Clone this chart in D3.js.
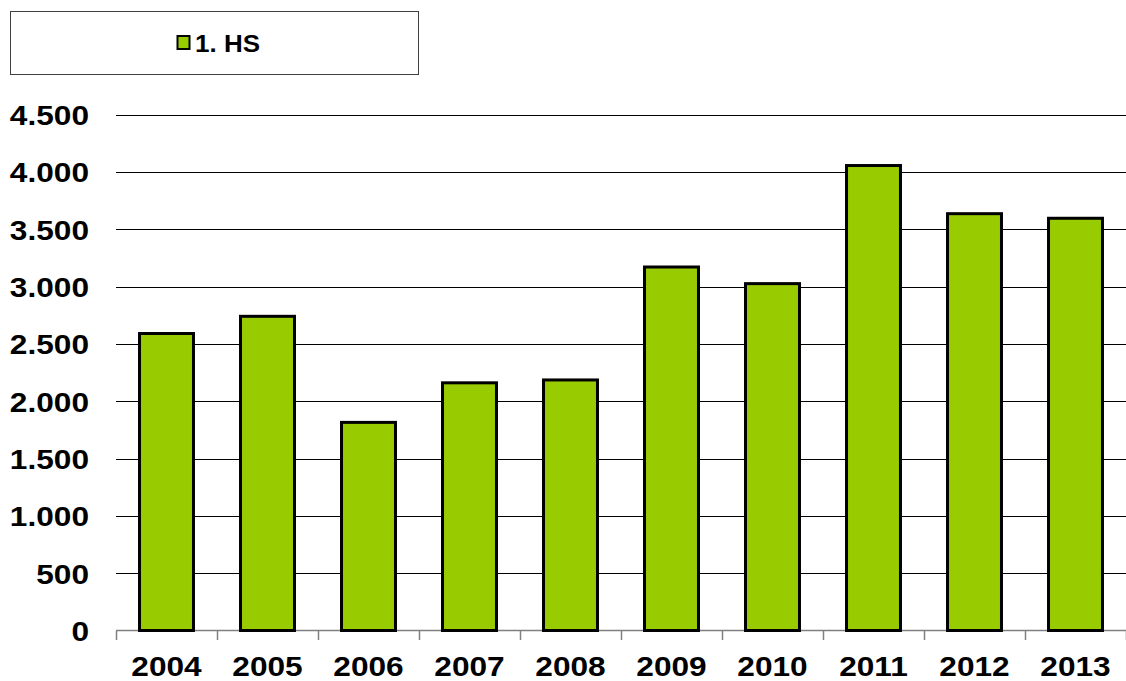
<html>
<head>
<title> 1. HS </title>
<script src="https://d3js.org/d3.v7.min.js"></script>
<style>
body {
  margin: 0;
  background: white;
}
svg text {
  font-family: "Liberation Sans", Arial, sans-serif;
  font-weight: bold;
  fill: #000;
}
.gridlines line {
  stroke: #000;
  shape-rendering: crispEdges;
}
.gridlines .domain {
  stroke: none;
}
</style>
</head>
<body>
<svg id="barchart" width="1126" height="681"></svg>

<script>
// data
const years = ["2004","2005","2006","2007","2008","2009","2010","2011","2012","2013"];
const values = [2590, 2740, 1815, 2160, 2185, 3170, 3025, 4055, 3635, 3595];
const yTicks = [0, 500, 1000, 1500, 2000, 2500, 3000, 3500, 4000, 4500];
const seriesName = "1. HS";

const svg = d3.select("svg#barchart");
const margin = {top: 115, right: 0, bottom: 50, left: 116};
const width = +svg.attr("width");
const height = +svg.attr("height");
const chartBottom = height - margin.bottom;   // zero line
const stretch = 1.13;                         // text in the original is a bit wide

const deLocale = d3.formatLocale({decimal: ",", thousands: ".", grouping: [3], currency: ["", ""]});
const fmt = deLocale.format(",d");

const yScale = d3.scaleLinear().domain([0, 4500]).range([chartBottom - 0.5, margin.top - 0.5]);
const xScale = d3.scaleBand().domain(years)
                 .range([margin.left, width - margin.right])
                 .paddingInner(0.436).paddingOuter(0.218);

//gridlines + y labels
let leftAxis = d3.axisLeft(yScale)
                 .tickValues(yTicks)
                 .tickSize(-(width - margin.left))
                 .tickPadding(0)
                 .tickFormat(fmt);
let yG = svg.append("g")
            .attr("class", "y gridlines")
            .attr("transform", `translate(${margin.left},0)`)
            .call(leftAxis);
yG.selectAll(".tick line").filter(d => d === 0).remove();
yG.selectAll(".tick text")
  .attr("x", 0).attr("dy", null).attr("y", 0)
  .attr("transform", "translate(-27,10) scale(" + stretch + ",1)")
  .style("font-size", "28px")
  .attr("text-anchor", "end");

//x axis line and ticks between categories
const annotations = svg.append("g").attr("id", "annotations");
annotations.append("line")
  .attr("x1", margin.left).attr("x2", width)
  .attr("y1", chartBottom - 0.5).attr("y2", chartBottom - 0.5)
  .attr("stroke", "#808080").attr("stroke-width", 1.5);

const step = xScale.step();
const bounds = years.map(y => xScale(y) - step * xScale.paddingInner() / 2).concat([width - 0.5]);
annotations.selectAll("line.xtick").data(bounds).enter().append("line")
  .attr("class", "xtick")
  .attr("x1", d => Math.round(d) + 0.5).attr("x2", d => Math.round(d) + 0.5)
  .attr("y1", chartBottom).attr("y2", chartBottom + 9)
  .attr("stroke", "#808080").attr("stroke-width", 1.5);

annotations.selectAll("text.xlabel").data(years).enter().append("text")
  .attr("class", "xlabel")
  .attr("text-anchor", "middle")
  .style("font-size", "28px")
  .attr("transform", d => `translate(${xScale(d) + xScale.bandwidth() / 2},676) scale(${stretch},1)`)
  .text(d => d);

//bars
const barData = years.map((y, i) => ({year: y, value: values[i]}));
svg.append("g").attr("id", "bars").selectAll("rect.bar")
  .data(barData).enter().append("rect")
  .attr("class", "bar")
  .attr("fill", "#99CC00")
  .attr("stroke", "#000")
  .attr("stroke-width", 3)
  .attr("x", d => xScale(d.year) + 1.5)
  .attr("y", d => yScale(d.value))
  .attr("width", xScale.bandwidth() - 3)
  .attr("height", d => yScale(0) - yScale(d.value));

//legend
const legend = svg.append("g").attr("class", "legend");
legend.append("rect").attr("x", 10.5).attr("y", 11.5).attr("width", 408).attr("height", 63)
  .attr("fill", "white").attr("stroke", "#404040").attr("stroke-width", 1);
legend.append("rect").attr("x", 177.5).attr("y", 36).attr("width", 12).attr("height", 13)
  .attr("fill", "#99CC00").attr("stroke", "#000").attr("stroke-width", 2);
legend.append("text")
  .attr("transform", "translate(195,51.5) scale(" + stretch + ",1)")
  .style("font-size", "23px")
  .text(seriesName);
</script>
</body>
</html>
